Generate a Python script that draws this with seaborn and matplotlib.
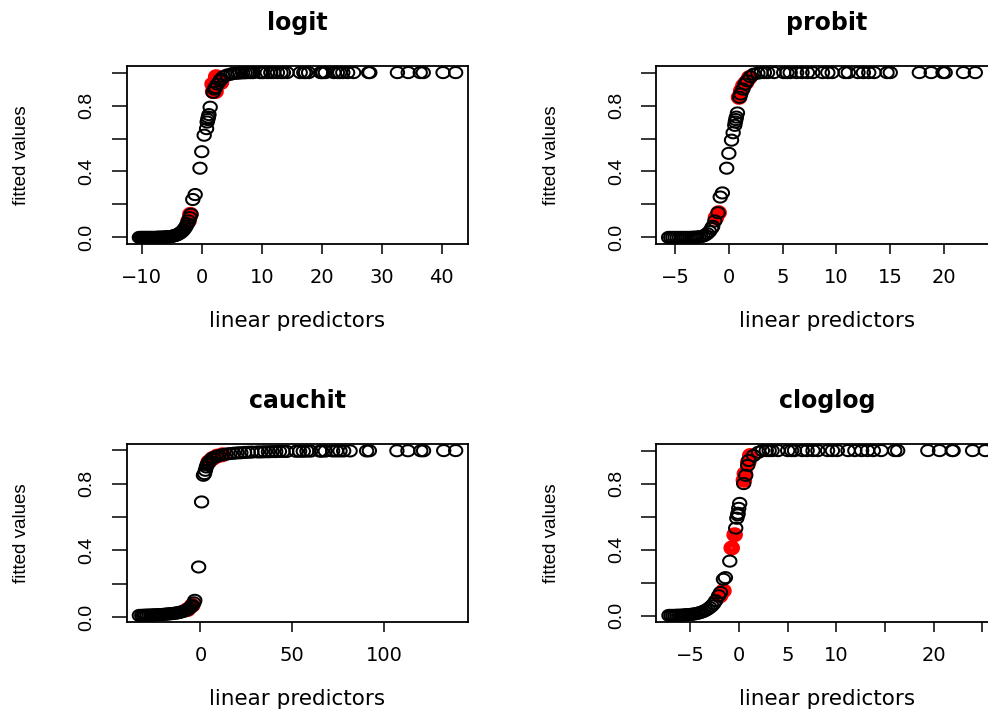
import numpy as np
import matplotlib
matplotlib.use("Agg")
import matplotlib.pyplot as plt
import seaborn as sns
from matplotlib.path import Path
from matplotlib.markers import MarkerStyle

# ---------------- data ----------------
panel_titles = ["logit", "probit", "cauchit", "cloglog"]

logit_x = [-10.4, -10.2, -10.0, -9.8, -9.6, -9.4, -9.2, -9.0, -8.8, -8.6, -8.4, -8.2, -8.0, -7.8,
           -7.6, -7.4, -7.2, -7.0, -6.8, -6.6, -6.4, -6.2, -6.0, -5.8, -5.6, -5.4, -5.2, -5.0,
           -4.8, -4.6, -4.4, -4.2, -4.0, -3.8, -3.6, -3.4, -3.2, -3.0, -2.8, -2.6, -2.4,
           -2.2, -2.0, -1.8, -1.5, -1.1, -0.3, 0.0, 0.4, 0.8, 0.9, 1.0, 1.1, 1.2, 1.4, 1.9,
           2.1, 2.3, 2.6, 3.0, 3.2, 3.6, 4.2, 4.8, 5.2, 5.6, 6.0, 6.4, 6.8, 7.2,
           7.6, 8.0, 8.3, 8.6, 9.7, 10.0, 10.3, 10.9, 11.5, 12.0, 12.6, 13.2, 13.6, 14.2,
           16.4, 17.0, 17.3, 17.8, 19.8, 20.0, 20.2, 20.6, 22.0, 22.6, 23.0, 23.5, 24.3,
           25.3, 27.8, 28.0, 32.6, 34.4, 36.4, 36.9, 40.2, 42.3]
logit_y = [0.000, 0.000, 0.000, 0.000, 0.000, 0.000, 0.000, 0.000, 0.000, 0.000, 0.000, 0.000,
           0.000, 0.000, 0.000, 0.001, 0.001, 0.001, 0.001, 0.001, 0.002, 0.002, 0.002, 0.003,
           0.004, 0.004, 0.005, 0.007, 0.008, 0.010, 0.012, 0.015, 0.018, 0.022, 0.027, 0.032,
           0.039, 0.047, 0.057, 0.069, 0.083,
           0.10, 0.12, 0.14, 0.23, 0.26, 0.42, 0.52, 0.62, 0.66, 0.70, 0.715, 0.73, 0.745,
           0.79, 0.88, 0.90, 0.91, 0.93, 0.95, 0.96, 0.975, 0.985, 0.99, 0.995, 0.996, 0.997,
           0.998, 0.999, 0.999,
           1.0, 1.0, 1.0, 1.0, 1.0, 1.0, 1.0, 1.0, 1.0, 1.0, 1.0, 1.0, 1.0, 1.0,
           1.0, 1.0, 1.0, 1.0, 1.0, 1.0, 1.0, 1.0, 1.0, 1.0, 1.0, 1.0, 1.0,
           1.0, 1.0, 1.0, 1.0, 1.0, 1.0, 1.0, 1.0, 1.0]
logit_red_x = [-2.2, -1.9, 1.9, 2.3, 1.8, 3.2, 2.4]
logit_red_y = [0.10, 0.14, 0.885, 0.885, 0.93, 0.94, 0.975]

probit_x = [-5.6, -5.4, -5.2, -5.0, -4.8, -4.6, -4.4, -4.2, -4.0, -3.8, -3.6, -3.4, -3.2, -3.0,
            -2.8, -2.6, -2.4, -2.2, -2.0,
            -1.8, -1.6, -1.5, -1.3, -1.0, -0.8, -0.6, -0.2, 0.0, 0.25, 0.4, 0.55, 0.6, 0.65,
            0.7, 0.8, 1.0, 1.1, 1.3, 1.5, 1.7, 2.0, 2.3, 2.7,
            3.0, 3.3, 3.6, 4.2, 5.1, 5.4, 5.7, 6.3, 6.8, 7.3, 7.8, 8.7, 9.2, 9.6, 10.8, 11.1,
            12.0, 12.5, 13.0, 13.5, 14.7, 15.0, 17.7, 18.8, 19.9, 20.1, 21.8, 22.9]
probit_y = [0.000, 0.000, 0.000, 0.000, 0.000, 0.000, 0.000, 0.000, 0.000, 0.000, 0.000, 0.001,
            0.001, 0.002, 0.003, 0.005, 0.008, 0.014, 0.023,
            0.036, 0.055, 0.067, 0.10, 0.15, 0.245, 0.27, 0.42, 0.51, 0.59, 0.635, 0.68, 0.70,
            0.715, 0.73, 0.755, 0.85, 0.87, 0.90, 0.93, 0.95, 0.975, 0.99, 0.997,
            1.0, 1.0, 1.0, 1.0, 1.0, 1.0, 1.0, 1.0, 1.0, 1.0, 1.0, 1.0, 1.0, 1.0, 1.0, 1.0,
            1.0, 1.0, 1.0, 1.0, 1.0, 1.0, 1.0, 1.0, 1.0, 1.0, 1.0, 1.0]
probit_red_x = [-1.2, -0.95, 0.95, 1.15, 1.35, 1.6, 1.9]
probit_red_y = [0.12, 0.15, 0.85, 0.89, 0.92, 0.94, 0.97]

cauchit_x = [-33.3, -32.0, -31.0, -30.0, -29.0, -28.0, -27.0, -26.0, -25.0, -24.0, -23.0, -22.0,
             -21.0, -20.0, -19.0, -18.0, -17.0, -16.0, -15.0, -14.0, -13.0, -12.0, -11.0, -10.0,
             -9.0, -8.0, -7.0, -6.0, -5.0, -4.5,
             -3.6, -3.1, -1.0, 0.6, 1.6, 2.2, 2.7, 3.2, 3.7, 4.3, 5.0, 6.0, 7.0, 8.5, 10.0,
             12.0, 14.0, 16.0, 18.0, 20.0, 22.0, 24.0, 26.0, 28.0,
             31.0, 33.0, 35.0, 37.0, 39.0, 41.0, 43.0, 45.0, 47.0, 52.0, 54.0, 56.0, 58.0, 60.0,
             65.0, 66.0, 68.0, 72.0, 74.0, 76.0, 78.0, 81.5, 90.5, 92.0, 107.0, 113.0, 120.0,
             121.5, 132.5, 139.0]
cauchit_y = [0.0096, 0.010, 0.010, 0.011, 0.011, 0.011, 0.012, 0.012, 0.013, 0.013, 0.014, 0.014,
             0.015, 0.016, 0.017, 0.018, 0.019, 0.020, 0.021, 0.023, 0.024, 0.026, 0.029, 0.032,
             0.035, 0.040, 0.045, 0.053, 0.063, 0.070,
             0.085, 0.10, 0.30, 0.69, 0.85, 0.86, 0.88, 0.90, 0.915, 0.925, 0.935, 0.947, 0.955,
             0.962, 0.968, 0.973, 0.977, 0.980, 0.982, 0.984, 0.985, 0.987, 0.988, 0.989,
             0.990, 0.990, 0.991, 0.991, 0.992, 0.992, 0.993, 0.993, 0.993, 0.994, 0.994, 0.994,
             0.995, 0.995, 0.995, 0.995, 0.995, 0.996, 0.996, 0.996, 0.996, 0.996, 0.996, 0.997,
             0.997, 0.997, 0.997, 0.997, 0.998, 0.998]
cauchit_red_x = [-7.0, -4.5, 4.5, 6.5, 9.0, 12.0]
cauchit_red_y = [0.045, 0.07, 0.93, 0.95, 0.965, 0.973]

cloglog_x = [-7.2, -7.0, -6.8, -6.6, -6.4, -6.2, -6.0, -5.8, -5.6, -5.4, -5.2, -5.0, -4.8, -4.6,
             -4.4, -4.2, -4.0, -3.8, -3.6, -3.4, -3.2, -3.0, -2.8, -2.6,
             -2.4, -2.1, -1.9, -1.6, -1.4, -0.95, -0.34, -0.23, -0.13, -0.1, -0.03, 0.07, 0.48,
             0.69, 0.89, 1.0, 1.5, 2.0,
             2.4, 2.8, 3.1, 3.4, 4.0, 5.0, 5.4, 5.7, 6.5, 7.0, 7.6, 8.1, 9.1, 9.6, 10.1, 11.2,
             11.9, 12.6, 13.2, 13.8, 14.6, 16.0, 16.3, 19.4, 20.6, 21.9, 22.0, 24.0, 25.3]
cloglog_y = [0.001, 0.001, 0.001, 0.001, 0.002, 0.002, 0.002, 0.003, 0.004, 0.005, 0.006, 0.007,
             0.008, 0.010, 0.012, 0.015, 0.018, 0.022, 0.027, 0.033, 0.040, 0.049, 0.059, 0.072,
             0.09, 0.12, 0.14, 0.22, 0.23, 0.33, 0.53, 0.59, 0.61, 0.62, 0.65, 0.68, 0.80,
             0.85, 0.91, 0.94, 0.97, 0.99,
             1.0, 1.0, 1.0, 1.0, 1.0, 1.0, 1.0, 1.0, 1.0, 1.0, 1.0, 1.0, 1.0, 1.0, 1.0, 1.0,
             1.0, 1.0, 1.0, 1.0, 1.0, 1.0, 1.0, 1.0, 1.0, 1.0, 1.0, 1.0, 1.0]
cloglog_red_x = [-1.95, -1.6, -0.75, -0.45, 0.5, 0.6, 0.95, 1.15]
cloglog_red_y = [0.12, 0.15, 0.41, 0.49, 0.82, 0.86, 0.93, 0.97]

logit_xticks = [-10, 0, 10, 20, 30, 40]
logit_xlabels = ["\u221210", "0", "10", "20", "30", "40"]
probit_xticks = [-5, 0, 5, 10, 15, 20, 25]
probit_xlabels = ["\u22125", "0", "5", "10", "15", "20", ""]
cauchit_xticks = [0, 50, 100]
cauchit_xlabels = ["0", "50", "100"]
cloglog_xticks = [-5, 0, 5, 10, 15, 20, 25]
cloglog_xlabels = ["\u22125", "0", "5", "10", "", "20", ""]
y_ticks = [0.0, 0.2, 0.4, 0.6, 0.8, 1.0]
y_ticklabels = ["0.0", "", "0.4", "", "0.8", ""]

x_title = "linear predictors"
y_title = "fitted values"

# ---------------- style ----------------
sns.set_style("white")
plt.rcParams["font.family"] = ["DejaVu Sans"]
plt.rcParams["text.color"] = "black"
plt.rcParams["axes.labelcolor"] = "black"
plt.rcParams["xtick.color"] = "black"
plt.rcParams["ytick.color"] = "black"

fig = plt.figure(figsize=(9.88, 7.09), dpi=100)
W, H = 988.0, 709.0
ax_w, ax_h = 341.6 / W, 178.0 / H
rects = [
    [126.7 / W, 1 - 244.0 / H, ax_w, ax_h],
    [656.3 / W, 1 - 244.0 / H, ax_w, ax_h],
    [126.7 / W, 1 - 622.0 / H, ax_w, ax_h],
    [656.3 / W, 1 - 622.0 / H, ax_w, ax_h],
]

t = np.linspace(0, 2 * np.pi, 73)
ell = MarkerStyle(Path(np.column_stack([1.2 * np.cos(t), np.sin(t)]), closed=True))

panels = [
    (logit_x, logit_y, logit_red_x, logit_red_y, logit_xticks, logit_xlabels),
    (probit_x, probit_y, probit_red_x, probit_red_y, probit_xticks, probit_xlabels),
    (cauchit_x, cauchit_y, cauchit_red_x, cauchit_red_y, cauchit_xticks, cauchit_xlabels),
    (cloglog_x, cloglog_y, cloglog_red_x, cloglog_red_y, cloglog_xticks, cloglog_xlabels),
]

for i, (bx, by, rx, ry, xt, xl) in enumerate(panels):
    ax = fig.add_axes(rects[i])
    sns.scatterplot(x=rx, y=ry, ax=ax, marker=ell, s=45, facecolor="none",
                    edgecolor="#ff0000", linewidth=5.2, zorder=2)
    sns.scatterplot(x=bx, y=by, ax=ax, marker=ell, s=92, facecolor="none",
                    edgecolor="black", linewidth=1.45, zorder=3)
    allx = np.array(bx + rx, dtype=float)
    ally = np.array(by + ry, dtype=float)
    rxg = allx.max() - allx.min()
    ryg = ally.max() - ally.min()
    ax.set_xlim(allx.min() - 0.04 * rxg, allx.max() + 0.04 * rxg)
    ax.set_ylim(ally.min() - 0.04 * ryg, ally.max() + 0.04 * ryg)

    ax.set_xticks(xt)
    ax.set_xticklabels(xl, fontsize=14, family="DejaVu Sans")
    ax.set_yticks(y_ticks)
    ax.set_yticklabels(y_ticklabels, fontsize=14, family="Liberation Sans",
                       rotation=90, va="center")
    ax.tick_params(axis="x", bottom=True, direction="out", length=7.5, width=1.1, pad=10)
    ax.tick_params(axis="y", left=True, direction="out", length=10.5, width=1.1, pad=12)
    for sp in ax.spines.values():
        sp.set_visible(True)
        sp.set_color("black")
        sp.set_linewidth(1.3)

    ax.set_title(panel_titles[i], fontsize=17, fontweight="bold", pad=26)
    ax.set_xlabel(x_title, fontsize=15.5, family="DejaVu Sans")
    ax.xaxis.label.set_verticalalignment("center")
    ax.xaxis.set_label_coords(0.5, -0.43)
    ax.set_ylabel(y_title, fontsize=13.5, family="Liberation Sans")
    ax.yaxis.label.set_verticalalignment("center")
    ax.yaxis.set_label_coords(-0.3065, 0.5)

fig.savefig("out.png", dpi=100)
